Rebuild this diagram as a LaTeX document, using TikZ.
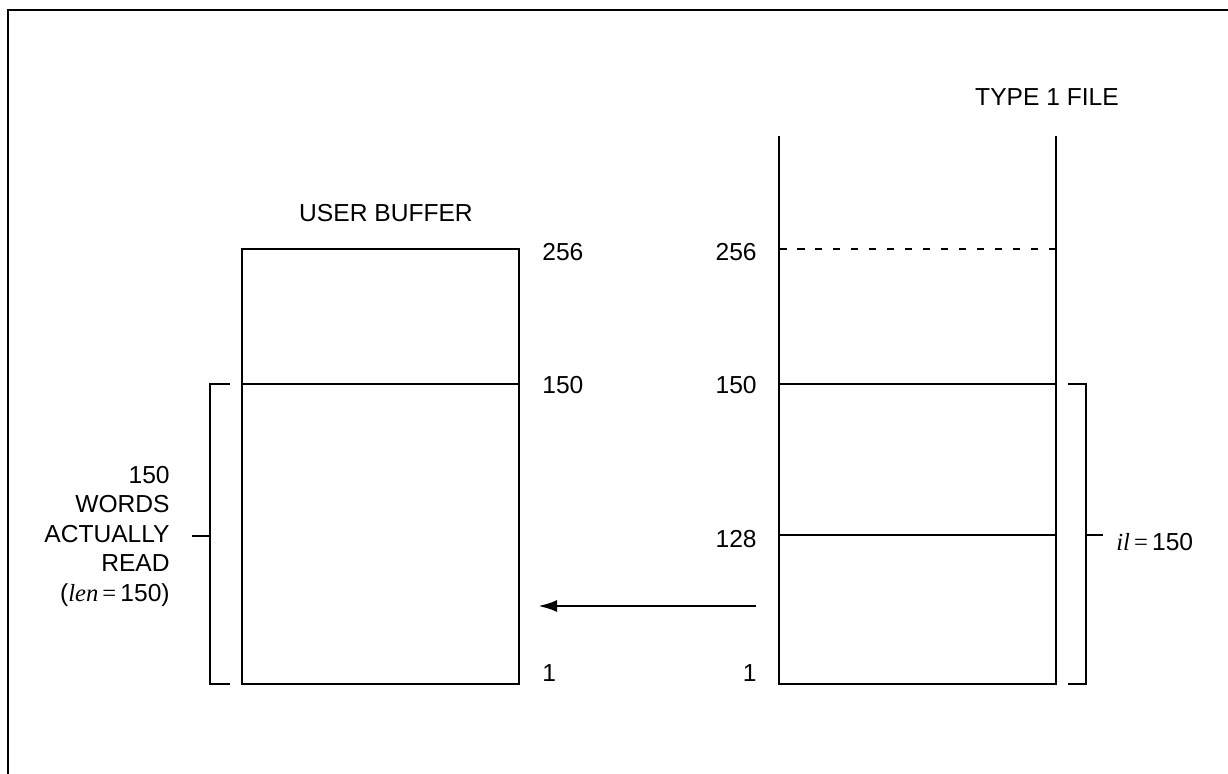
\documentclass[tikz,border=0pt]{standalone}
\usepackage{fontspec}
\setmainfont{Liberation Sans}
\newfontfamily\timesfont{Liberation Serif}
\usetikzlibrary{arrows.meta}

\begin{document}
\begin{tikzpicture}[
		x=0.02cm, y=-0.02cm,
		wall/.style={line width=1.6pt},
		dotted wall/.style={line width=1.6pt, dash pattern=on 0.15cm off 0.21cm},
		bracket/.style={line width=1.6pt},
		lbl/.style={font=\fontsize{14}{16.8}\selectfont, inner sep=0pt},
		leftnum/.style={lbl, anchor=west},
		rightnum/.style={lbl, anchor=east},
		flow/.style={line width=1.6pt, -{Latex[length=0.38cm, width=0.24cm]}}
		]
		
		\useasboundingbox (0,0) rectangle (1228,774);
		
		% marco
		\coordinate (frame-bl) at (8,774);
		\coordinate (frame-tl) at (8,10);
		\coordinate (frame-tr) at (1228,10);
		\draw[wall] (frame-bl) -- (frame-tl) -- (frame-tr);
		
		% user buffer
		\node[lbl] (buftitle) at (386,213) {USER BUFFER};
		\coordinate (buf-tl) at (242,249);
		\coordinate (buf-br) at (519,684);
		\coordinate (buf-ml) at (242,384);
		\coordinate (buf-mr) at (519,384);
		\draw[wall] (buf-tl) rectangle (buf-br);
		\draw[wall] (buf-ml) -- (buf-mr);
		\node[leftnum] (buf256) at (542,252) {256};
		\node[leftnum] (buf150) at (542,385) {150};
		\node[leftnum] (buf1) at (542,673) {1};
		
		% type 1 file
		\node[lbl] (filetitle) at (1047,97) {TYPE 1 FILE};
		\coordinate (file-tl) at (779,136);
		\coordinate (file-tr) at (1056,136);
		\coordinate (file-bl) at (779,684);
		\coordinate (file-br) at (1056,684);
		\draw[wall] (file-tl) -- (file-bl) -- (file-br) -- (file-tr);
		\coordinate (file256l) at (779,249);
		\coordinate (file256r) at (1056,249);
		\coordinate (file150l) at (779,384);
		\coordinate (file150r) at (1056,384);
		\coordinate (file128l) at (779,535);
		\coordinate (file128r) at (1056,535);
		\draw[dotted wall] (file256l) -- (file256r);  % limite del buffer
		\draw[wall] (file150l) -- (file150r);
		\draw[wall] (file128l) -- (file128r);
		\node[rightnum] (file256) at (757,252) {256};
		\node[rightnum] (file150) at (757,385) {150};
		\node[rightnum] (file128) at (757,539) {128};
		\node[rightnum] (file1) at (757,673) {1};
		
		% palabras leidas
		\coordinate (lb-top) at (230,384);
		\coordinate (lb-bot) at (230,684);
		\coordinate (lb-mid) at (210,536);
		\coordinate (lb-tick) at (192,536);
		\draw[bracket] (lb-top) -- (210,384) -- (210,684) -- (lb-bot);
		\draw[bracket] (lb-mid) -- (lb-tick);
		\node[lbl, align=right, anchor=east] (wordsread) at (170,536)
			{150\\WORDS\\ACTUALLY\\READ\\({\timesfont\itshape len}{\timesfont\,=\,}150)};
		
		% longitud en el archivo
		\coordinate (rb-top) at (1068,384);
		\coordinate (rb-bot) at (1068,684);
		\coordinate (rb-mid) at (1086,535);
		\coordinate (rb-tick) at (1103,535);
		\draw[bracket] (rb-top) -- (1086,384) -- (1086,684) -- (rb-bot);
		\draw[bracket] (rb-mid) -- (rb-tick);
		\node[lbl, anchor=west] (ilen) at (1116,542) {{\timesfont\itshape il}{\timesfont\,=\,}150};
		
		% lectura
		\coordinate (read-from) at (756,606);
		\coordinate (read-to) at (538,606);
		\draw[flow] (read-from) -- (read-to);
	\end{tikzpicture}
\end{document}
